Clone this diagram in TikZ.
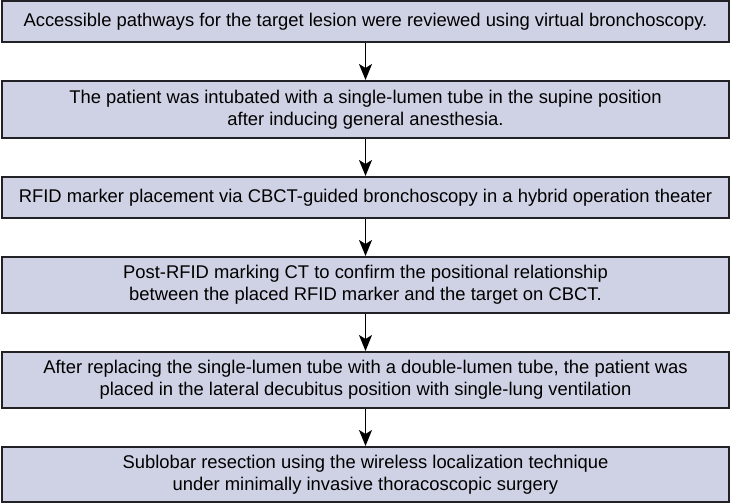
\documentclass[tikz,border=0pt]{standalone}
\usepackage{fontspec}
\setmainfont{Liberation Sans}
\usetikzlibrary{arrows.meta}
\definecolor{boxfill}{RGB}{207,210,228}
\definecolor{boxline}{RGB}{34,34,38}
\tikzset{
  stepbox/.style={draw=boxline, fill=boxfill, line width=2bp, minimum width=727bp,
    inner sep=0pt, align=center, font=\fontsize{18.4bp}{22bp}\selectfont, anchor=center},
  flowarrow/.style={draw=black, line width=1.6bp, -{Stealth[length=16bp,width=13bp,inset=4bp]}}
}
\begin{document}
\begin{tikzpicture}[x=1bp,y=-1bp]
\useasboundingbox (0,0) rectangle (731,503);
\node[stepbox, minimum height=41bp] (s1) at (365.5,21.5) {Accessible pathways for the target lesion were reviewed using virtual bronchoscopy.};
\node[stepbox, minimum height=57bp] (s2) at (365.5,109.5) {The patient was intubated with a single-lumen tube in the supine position\\after inducing general anesthesia.};
\node[stepbox, minimum height=41bp] (s3) at (365.5,197.5) {RFID marker placement via CBCT-guided bronchoscopy in a hybrid operation theater};
\node[stepbox, minimum height=56bp] (s4) at (365.5,285) {Post-RFID marking CT to confirm the positional relationship\\between the placed RFID marker and the target on CBCT.};
\node[stepbox, minimum height=56bp] (s5) at (365.5,380) {After replacing the single-lumen tube with a double-lumen tube, the patient was\\placed in the lateral decubitus position with single-lung ventilation};
\node[stepbox, minimum height=55bp] (s6) at (365.5,474.5) {Sublobar resection using the wireless localization technique\\under minimally invasive thoracoscopic surgery};
\draw[flowarrow] (s1) -- (s2);
\draw[flowarrow] (s2) -- (s3);
\draw[flowarrow] (s3) -- (s4);
\draw[flowarrow] (s4) -- (s5);
\draw[flowarrow] (s5) -- (s6);
\end{tikzpicture}
\end{document}
